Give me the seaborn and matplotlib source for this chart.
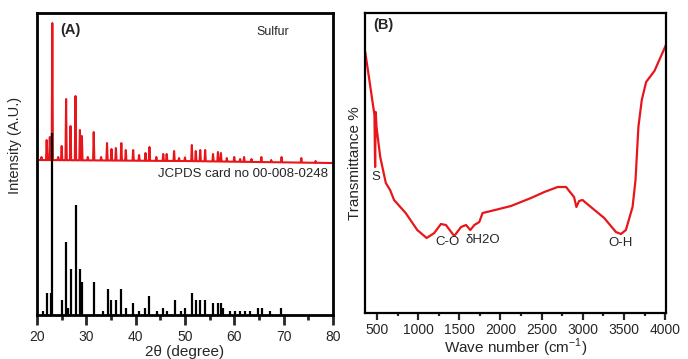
import numpy as np
import pandas as pd
import seaborn as sns
from matplotlib import pyplot as plt

# ---- panel A: XRD of sulfur (red) and reference card sticks (black) ----
red_peak_pos = [20.9, 21.96, 22.6, 23.1, 24.3, 25.0, 25.9, 26.8, 27.8, 28.7,
                29.1, 30.3, 31.5, 33.0, 34.2, 35.1, 36.0, 37.1, 38.0, 39.5,
                40.7, 42.0, 42.8, 44.2, 45.6, 46.3, 47.8, 48.8, 50.0, 51.4,
                52.2, 53.1, 54.1, 55.7, 56.7, 57.3, 58.5, 60.0, 61.2, 62.0,
                63.5, 65.5, 67.5, 69.6, 73.6, 76.5]
red_peak_h = [158, 175, 178, 292, 158, 169, 216, 189, 219, 185,
              179, 158, 183, 158, 172, 166, 167, 172, 165, 165,
              160, 162, 168, 158, 161, 161, 164, 157, 161, 170,
              164, 165, 165, 161, 163, 162, 157, 158, 156, 158,
              156, 158, 155, 158, 157, 154]
red_base_x = [20.5, 50.0, 80.0]
red_base_y = [155, 154, 152]

card_pos = [21.3, 22.0, 22.8, 23.1, 25.0, 25.9, 26.3, 26.8, 27.9, 28.8,
            29.2, 31.5, 33.4, 34.3, 35.1, 36.0, 37.1, 38.0, 39.5, 40.7,
            42.0, 42.8, 44.3, 45.6, 46.3, 48.0, 49.3, 50.0, 51.4, 52.2,
            53.1, 54.1, 55.7, 56.7, 57.3, 57.8, 59.1, 60.1, 61.1, 62.1,
            63.1, 64.8, 65.6, 67.2, 69.4]
card_h = [4, 22, 22, 182, 15, 73, 7, 46, 110, 46,
          33, 33, 4, 26, 15, 15, 26, 7, 12, 4,
          7, 19, 4, 7, 4, 15, 4, 7, 22, 15,
          15, 15, 12, 12, 12, 7, 4, 4, 4, 4,
          4, 7, 7, 4, 7]

# ---- panel B: FTIR ----
ir_wn = [358, 470, 478, 485, 495, 540, 608, 660, 708, 849,
         990, 1104, 1196, 1277, 1338, 1439, 1521, 1582, 1634, 1683,
         1743, 1783, 1885, 2128, 2371, 2533, 2695, 2797, 2854, 2894,
         2922, 2955, 2996, 3098, 3260, 3402, 3463, 3523, 3604, 3640,
         3675, 3716, 3769, 3870, 4010]
ir_t = [261, 198, 146, 201, 186, 156, 130, 123, 113, 100,
        83, 75, 80, 89, 88, 77, 86, 88, 83, 88,
        91, 100, 102, 107, 115, 121, 126, 126, 120, 116,
        106, 112, 113, 106, 95, 81, 79, 83, 106, 133,
        186, 213, 231, 242, 268]

# build the red XRD trace: baseline with a sharp spike at each peak
xs, ys = [], []
for p, h in zip(red_peak_pos, red_peak_h):
    b = np.interp(p, red_base_x, red_base_y)
    xs += [p - 0.13, p, p + 0.13]
    ys += [b, h, b]
xs += red_base_x
ys += red_base_y
xrd = pd.DataFrame({'two_theta': xs, 'intensity': ys}).sort_values('two_theta')

ftir = pd.DataFrame({'wn': ir_wn, 't': ir_t})

sns.set_theme(style='ticks')
plt.rcParams['font.family'] = ['Liberation Sans', 'DejaVu Sans']
plt.rcParams['mathtext.fontset'] = 'custom'
plt.rcParams['mathtext.rm'] = 'Liberation Sans'

red = '#e8161b'
fig = plt.figure(figsize=(6.88, 3.59), dpi=100)
ax1 = fig.add_axes([0.0538, 0.1226, 0.430, 0.841])
ax2 = fig.add_axes([0.5305, 0.128, 0.4375, 0.836])

# panel A
sns.lineplot(data=xrd, x='two_theta', y='intensity', ax=ax1, color=red,
             lw=1.5, sort=False)
ax1.vlines(card_pos, 0, card_h, color='black', lw=1.6)
ax1.set_xlim(20, 80)
ax1.set_ylim(0, 302)
ax1.set_xticks(np.arange(20, 81, 10))
ax1.set_xticks(np.arange(25, 80, 10), minor=True)
ax1.set_yticks([])
ax1.tick_params(axis='x', which='major', direction='out', length=7, width=2,
                pad=3.5, labelsize=10)
ax1.tick_params(axis='x', which='minor', direction='out', length=3.5, width=2)
ax1.set_xlabel('2\u03b8 (degree)', fontsize=11, labelpad=1)
ax1.set_ylabel('Intensity (A.U.)', fontsize=10.5)
ax1.yaxis.set_label_coords(-0.05, 0.56)
ax1.text(26.7, 285, '(A)', fontsize=10.5, fontweight='bold', ha='center', va='center')
ax1.text(67.8, 283, 'Sulfur', fontsize=9, ha='center', va='center')
ax1.text(61.8, 141, 'JCPDS card no 00-008-0248', fontsize=9.5, ha='center', va='center')
for s in ax1.spines.values():
    s.set_linewidth(2)
    s.set_color('black')

# panel B
sns.lineplot(data=ftir, x='wn', y='t', ax=ax2, color=red, lw=1.6, sort=False)
ax2.set_xlim(355, 4010)
ax2.set_ylim(0, 300)
ax2.set_xticks(np.arange(500, 4001, 500))
ax2.set_xticks(np.arange(750, 4000, 500), minor=True)
ax2.set_yticks([])
ax2.tick_params(axis='x', which='major', direction='out', length=5, width=1.6,
                pad=2, labelsize=10)
ax2.tick_params(axis='x', which='minor', direction='out', length=2.5, width=1.6)
ax2.set_xlabel('Wave number (cm$^{-1}$)', fontsize=11, labelpad=0)
ax2.set_ylabel('Transmittance %', fontsize=11, labelpad=2)
ax2.text(581, 288, '(B)', fontsize=10.5, fontweight='bold', ha='center', va='center')
ax2.text(488, 136, 'S', fontsize=9.5, ha='center', va='center')
ax2.text(1354, 71, 'C-O', fontsize=9.5, ha='center', va='center')
ax2.text(1780, 73, '\u03b4H2O', fontsize=9.5, ha='center', va='center')
ax2.text(3456, 70, 'O-H', fontsize=9.5, ha='center', va='center')
for s in ax2.spines.values():
    s.set_linewidth(1.6)
    s.set_color('black')

fig.savefig('out.png', dpi=100)
